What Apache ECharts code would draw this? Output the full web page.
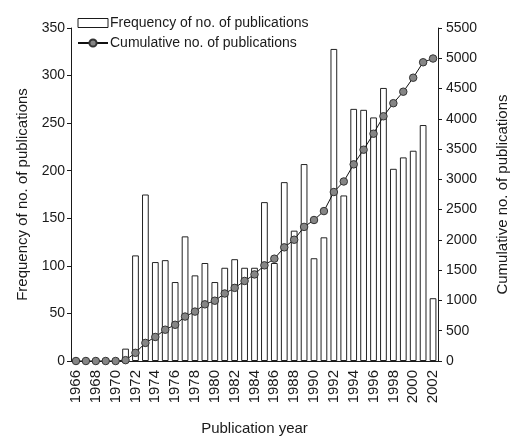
<!DOCTYPE html>
<html>
<head>
<meta charset="utf-8">
<script src="https://cdn.jsdelivr.net/npm/echarts@6/dist/echarts.min.js"></script>
<style>
  html, body { margin: 0; padding: 0; background: #ffffff; }
  #chart { width: 518px; height: 441px; }
</style>
</head>
<body>
<div id="chart"></div>
<script>
// Publication years on the category axis
const years = [
  '1966','1967','1968','1969','1970','1971','1972','1973','1974','1975',
  '1976','1977','1978','1979','1980','1981','1982','1983','1984','1985',
  '1986','1987','1988','1989','1990','1991','1992','1993','1994','1995',
  '1996','1997','1998','1999','2000','2001','2002'
];

// Number of publications per year (left axis)
const frequency = [
  0, 0, 0, 0, 0, 13, 111, 175, 104, 106,
  83, 131, 90, 103, 83, 98, 107, 98, 98, 167,
  103, 188, 137, 207, 108, 130, 328, 174, 265, 264,
  256, 287, 202, 214, 221, 248, 66
];

// Running total of publications (right axis)
const cumulative = [
  0, 0, 0, 0, 0, 14, 135, 299, 397, 517,
  598, 734, 816, 936, 996, 1115, 1208, 1322, 1430, 1580,
  1690, 1877, 2003, 2215, 2329, 2476, 2791, 2965, 3248, 3490,
  3754, 4042, 4258, 4448, 4679, 4934, 4996
];

const FONT = '"Liberation Sans", Arial, sans-serif';
const INK = '#1a1a1a';

const chart = echarts.init(document.getElementById('chart'), null, { renderer: 'canvas' });

chart.setOption({
  backgroundColor: '#ffffff',
  animation: false,
  textStyle: { fontFamily: FONT, color: INK },
  grid: { left: 71, top: 28, width: 373, height: 337, containLabel: false },
  legend: {
    orient: 'vertical',
    left: 77,
    top: 16,
    padding: 0,
    itemWidth: 30,
    itemHeight: 9,
    itemGap: 6,
    textStyle: { fontFamily: FONT, fontSize: 14, color: INK, padding: [0, 0, 0, -3] },
    data: [
      { name: 'Frequency of no. of publications', icon: 'rect',
        itemStyle: { color: '#ffffff', borderColor: INK, borderWidth: 1 } },
      { name: 'Cumulative no. of publications' }
    ]
  },
  xAxis: {
    type: 'category',
    data: years,
    boundaryGap: true,
    name: 'Publication year',
    nameLocation: 'middle',
    nameGap: 60,
    nameTextStyle: { fontFamily: FONT, fontSize: 15, color: INK },
    axisLine: { show: true, lineStyle: { color: INK, width: 1 } },
    axisTick: { show: false },
    axisLabel: {
      interval: 1,
      rotate: 90,
      margin: 9,
      fontFamily: FONT,
      fontSize: 15,
      color: INK
    },
    splitLine: { show: false }
  },
  yAxis: [
    {
      type: 'value',
      position: 'left',
      min: 0,
      max: 350,
      interval: 50,
      name: 'Frequency of no. of publications',
      nameLocation: 'middle',
      nameGap: 40,
      nameTextStyle: { fontFamily: FONT, fontSize: 15, color: INK },
      axisLine: { show: true, lineStyle: { color: INK, width: 1 } },
      axisTick: { show: true, inside: false, length: 4, lineStyle: { color: INK } },
      axisLabel: { margin: 6, fontFamily: FONT, fontSize: 14, color: INK },
      splitLine: { show: false }
    },
    {
      type: 'value',
      position: 'right',
      min: 0,
      max: 5500,
      interval: 500,
      name: 'Cumulative no. of publications',
      nameLocation: 'middle',
      nameGap: 57,
      nameTextStyle: { fontFamily: FONT, fontSize: 15, color: INK },
      axisLine: { show: true, lineStyle: { color: INK, width: 1 } },
      axisTick: { show: true, inside: false, length: 4, lineStyle: { color: INK } },
      axisLabel: {
        margin: 8, fontFamily: FONT, fontSize: 14, color: INK,
        formatter: (v) => String(v)
      },
      splitLine: { show: false }
    }
  ],
  series: [
    {
      name: 'Frequency of no. of publications',
      type: 'bar',
      yAxisIndex: 0,
      data: frequency,
      barWidth: '68%',
      itemStyle: { color: '#ffffff', borderColor: '#222222', borderWidth: 1 },
      z: 2
    },
    {
      name: 'Cumulative no. of publications',
      type: 'line',
      yAxisIndex: 1,
      data: cumulative,
      symbol: 'circle',
      symbolSize: 7.5,
      showAllSymbol: true,
      lineStyle: { color: '#111111', width: 1 },
      itemStyle: { color: '#858585', borderColor: '#333333', borderWidth: 1 },
      z: 3
    }
  ]
});
</script>
</body>
</html>
